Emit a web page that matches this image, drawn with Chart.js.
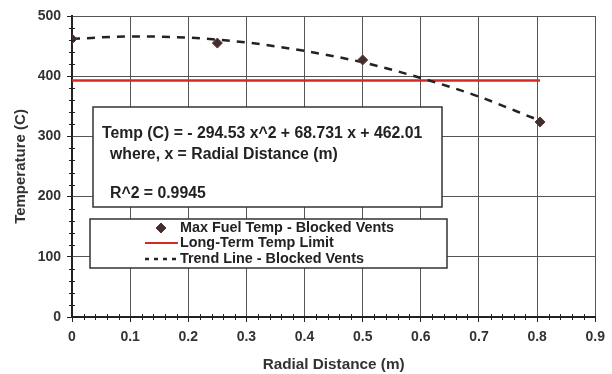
<!DOCTYPE html>
<html>
<head>
<meta charset="utf-8">
<script src="https://cdn.jsdelivr.net/npm/chart.js@4.4.0/dist/chart.umd.min.js"></script>
<style>
  body { margin: 0; background: #fff; }
  canvas { display: block; }
</style>
</head>
<body>
<canvas id="temp_chart" width="612" height="374"></canvas>
<script>
// values
var pointX = [0, 0.25, 0.5, 0.805]
var pointY = [462, 455, 427, 324]
var limitX = [0, 0.805]
var limitY = [393, 393]
var trendX = [0, 0.1, 0.2, 0.3, 0.4, 0.5, 0.6, 0.7, 0.8]
var trendY = [462, 466, 464, 456, 442, 423, 397, 366, 328]
var xTicks = ["0", "0.1", "0.2", "0.3", "0.4", "0.5", "0.6", "0.7", "0.8", "0.9"]
var eqLines = ["Temp (C) = - 294.53 x^2 + 68.731 x + 462.01", "where, x = Radial Distance (m)", "", "R^2 = 0.9945"]
var legendLabels = ["Max Fuel Temp - Blocked Vents", "Long-Term Temp Limit", "Trend Line - Blocked Vents"]

var FONT = "'Liberation Sans', Arial, sans-serif"
Chart.defaults.font.family = FONT

function toPoints(xs, ys) {
  var out = []
  for (var i = 0; i < xs.length; i++) out.push({x: xs[i], y: ys[i]})
  return out
}

// minor ticks on both axes
var minorTicks = {
  id: "minorTicks",
  afterDraw: function (chart) {
    var ctx = chart.ctx
    var xs = chart.scales.x
    var ys = chart.scales.y
    var a = chart.chartArea
    ctx.save()
    ctx.strokeStyle = "#222"
    ctx.lineWidth = 1
    ctx.beginPath()
    for (var v = 20; v < 500; v += 20) {
      if (v % 100 == 0) continue
      var py = Math.round(ys.getPixelForValue(v)) + 0.5
      ctx.moveTo(a.left - 3, py)
      ctx.lineTo(a.left + 3, py)
    }
    for (var k = 1; k < 45; k++) {
      if (k % 5 == 0) continue
      var px = Math.round(xs.getPixelForValue(k * 0.02)) + 0.5
      ctx.moveTo(px, a.bottom - 3)
      ctx.lineTo(px, a.bottom + 3)
    }
    ctx.stroke()
    ctx.restore()
  }
}

// equation box and legend box
var boxes = {
  id: "boxes",
  afterDatasetsDraw: function (chart) {
    var ctx = chart.ctx
    ctx.save()
    // equation box
    ctx.fillStyle = "#fff"
    ctx.strokeStyle = "#333"
    ctx.lineWidth = 1.5
    ctx.fillRect(93, 107, 349, 100)
    ctx.strokeRect(93, 107, 349, 100)
    ctx.fillStyle = "#222"
    ctx.font = "bold 15.8px " + FONT
    ctx.textBaseline = "middle"
    ctx.fillText(eqLines[0], 102, 134)
    ctx.fillText(eqLines[1], 110, 155)
    ctx.fillText(eqLines[3], 110, 194)

    // legend box
    ctx.fillStyle = "#fff"
    ctx.fillRect(90, 219, 357, 49)
    ctx.strokeRect(90, 219, 357, 49)
    var rows = [228, 243, 259]
    ctx.font = "bold 14.4px " + FONT
    ctx.fillStyle = "#222"
    for (var i = 0; i < legendLabels.length; i++) {
      ctx.fillText(legendLabels[i], 180, rows[i])
    }
    // diamond
    ctx.fillStyle = "#3a3232"
    ctx.strokeStyle = "#6e2a2a"
    ctx.lineWidth = 1
    ctx.beginPath()
    ctx.moveTo(161, rows[0] - 5)
    ctx.lineTo(166, rows[0])
    ctx.lineTo(161, rows[0] + 5)
    ctx.lineTo(156, rows[0])
    ctx.closePath()
    ctx.fill()
    ctx.stroke()
    // red line
    ctx.strokeStyle = "#d42a22"
    ctx.lineWidth = 2
    ctx.beginPath()
    ctx.moveTo(145, rows[1])
    ctx.lineTo(178, rows[1])
    ctx.stroke()
    // dashed
    ctx.strokeStyle = "#222"
    ctx.lineWidth = 2.5
    ctx.setLineDash([4, 5])
    ctx.beginPath()
    ctx.moveTo(145, rows[2])
    ctx.lineTo(178, rows[2])
    ctx.stroke()
    ctx.restore()
  }
}

new Chart(document.getElementById("temp_chart").getContext("2d"), {
  type: "scatter",
  data: {
    datasets: [
      {
        label: legendLabels[0],
        data: toPoints(pointX, pointY),
        pointStyle: "rectRot",
        pointRadius: 5,
        backgroundColor: "#3a3232",
        borderColor: "#6e2a2a",
        borderWidth: 1,
        order: 0
      },
      {
        label: legendLabels[2],
        data: toPoints(trendX, trendY),
        showLine: true,
        pointRadius: 0,
        borderColor: "#222",
        borderWidth: 2.5,
        borderDash: [8, 7],
        cubicInterpolationMode: "monotone",
        order: 1
      },
      {
        label: legendLabels[1],
        data: toPoints(limitX, limitY),
        showLine: true,
        pointRadius: 0,
        borderColor: "#d42a22",
        borderWidth: 2.5,
        order: 2
      }
    ]
  },
  options: {
    responsive: false,
    animation: false,
    layout: {padding: {left: 0, right: 13, top: 16, bottom: 0}},
    plugins: {legend: {display: false}, tooltip: {enabled: false}},
    scales: {
      x: {
        type: "linear",
        min: 0,
        max: 0.9,
        afterFit: function (s) { s.height = 57 },
        ticks: {
          stepSize: 0.1,
          padding: 7,
          color: "#333",
          font: {size: 14, weight: "bold"},
          callback: function (v) { return xTicks[Math.round(v * 10)] }
        },
        grid: {color: "#555", lineWidth: 1, tickLength: 5, tickColor: "#222"},
        border: {color: "#222", width: 2},
        title: {display: true, text: "Radial Distance (m)", color: "#333", font: {size: 15.3, weight: "bold"}, padding: {top: 0, bottom: 0}}
      },
      y: {
        min: 0,
        max: 500,
        afterFit: function (s) { s.width = 72 },
        ticks: {stepSize: 100, padding: 6, color: "#333", font: {size: 14, weight: "bold"}},
        grid: {color: "#555", lineWidth: 1, tickLength: 5, tickColor: "#222"},
        border: {color: "#222", width: 2},
        title: {display: true, text: "Temperature (C)", color: "#333", font: {size: 15, weight: "bold"}, padding: {top: 12, bottom: 0}}
      }
    }
  },
  plugins: [minorTicks, boxes]
})
</script>
</body>
</html>
